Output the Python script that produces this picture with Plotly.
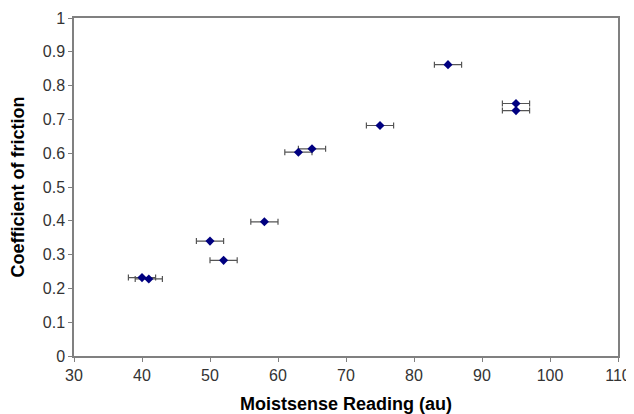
import plotly.graph_objects as go

moistsense = [40, 41, 50, 52, 58, 63, 65, 75, 85, 95, 95]
friction = [0.232, 0.228, 0.340, 0.283, 0.397, 0.603, 0.613, 0.682, 0.862, 0.747, 0.726]
x_err = [2, 2, 2, 2, 2, 2, 2, 2, 2, 2, 2]

fig = go.Figure()
fig.add_trace(go.Scatter(
    x=moistsense, y=friction, mode="markers",
    marker=dict(symbol="diamond", size=7, color="#000080"),
    error_x=dict(type="data", array=x_err, visible=True, color="#555555", thickness=1.2, width=3),
    showlegend=False,
))

axis_font = dict(family="Liberation Sans, Arial, sans-serif", size=16, color="#333333")
title_font = dict(family="Liberation Sans, Arial, sans-serif", size=18, color="black")
fig.update_layout(
    width=626, height=406,
    margin=dict(l=66, r=16, t=10, b=58),
    paper_bgcolor="white", plot_bgcolor="white",
    xaxis=dict(
        range=[30, 110], dtick=10, tick0=30,
        showgrid=False, zeroline=False, automargin=False,
        showline=True, linecolor="#808080", linewidth=1.5, mirror=True,
        ticks="outside", ticklen=4, tickcolor="#808080",
        tickfont=axis_font,
        title=dict(text="<b>Moistsense Reading (au)</b>", font=title_font, standoff=15),
    ),
    yaxis=dict(
        range=[0, 1], dtick=0.1,
        showgrid=False, zeroline=False, automargin=False,
        showline=True, linecolor="#808080", linewidth=1.5, mirror=True,
        ticks="outside", ticklen=4, tickcolor="#808080",
        tickfont=axis_font,
        title=dict(text="<b>Coefficient of friction</b>", font=title_font, standoff=17),
    ),
)
fig.write_html("out.html")
